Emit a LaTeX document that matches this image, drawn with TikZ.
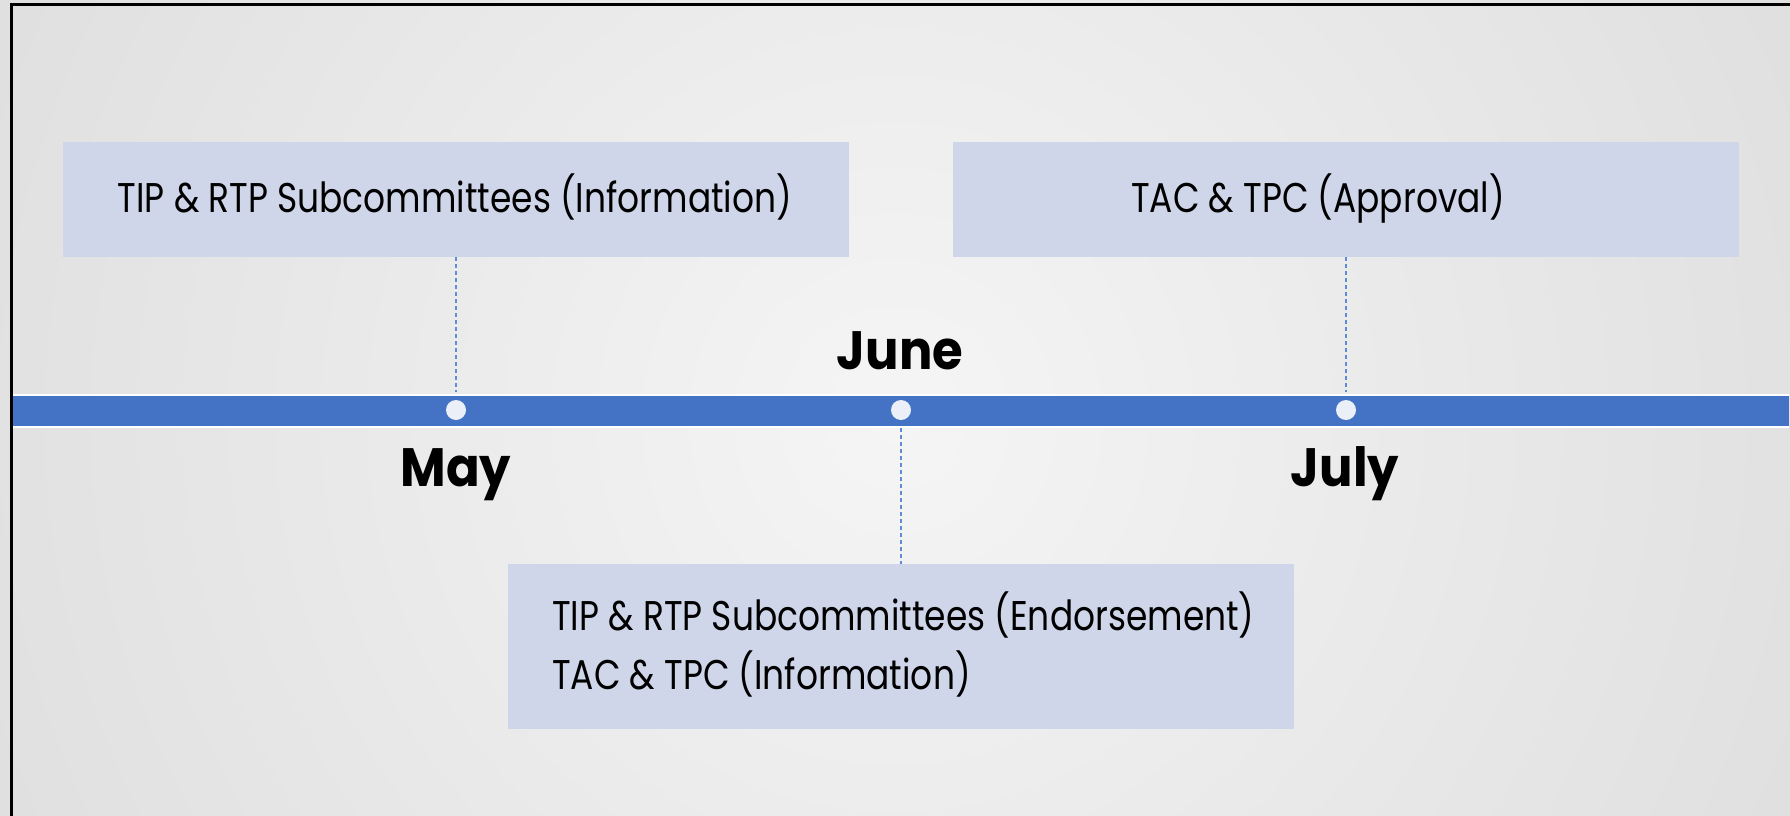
\documentclass[tikz,border=0pt]{standalone}
\usepackage{fontspec}
\newfontfamily\boxfont{Poppins}[FakeStretch=0.83]
\newfontfamily\monthfont{Poppins}[FakeStretch=0.92]
\definecolor{bgin}{RGB}{245,245,245}
\definecolor{bgout}{RGB}{220,220,220}
\definecolor{barblue}{RGB}{68,114,196}
\definecolor{boxfill}{RGB}{208,214,233}
\definecolor{dotfill}{RGB}{234,239,248}
\definecolor{dashblue}{RGB}{95,140,212}
\tikzset{
  box/.style={rectangle, fill=boxfill, minimum width=786pt, inner sep=0pt},
  boxtext/.style={inner sep=0pt, font=\boxfont\fontsize{41.5}{50}\selectfont},
  month/.style={inner sep=0pt, font=\monthfont\bfseries\fontsize{54}{60}\selectfont},
  dotnode/.style={circle, fill=dotfill, minimum size=20pt, inner sep=0pt},
  dashline/.style={draw=dashblue, line width=1.5pt, dash pattern=on 4pt off 3pt}
}
\begin{document}
\begin{tikzpicture}[x=1pt,y=-1pt]
\useasboundingbox (0,0) rectangle (1790,816);
\clip (0,0) rectangle (1790,816);
\shade[inner color=bgin, outer color=bgout] (895,420) circle (1150);
\draw[line width=3pt] (11.5,900) -- (11.5,4.5) -- (1900,4.5);
% boxes
\node[box, minimum height=115pt] (b1) at (456,199.5) {};
\node[box, minimum height=115pt] (b2) at (1346,199.5) {};
\node[box, minimum height=165pt] (b3) at (901,646.5) {};
% bar
\fill[barblue] (13,396) rectangle (1789,426);
\draw[white, line width=2pt] (13,395) -- (1789,395);
\draw[white, line width=2pt] (13,427) -- (1789,427);
% dots
\node[dotnode] (d1) at (456,410) {};
\node[dotnode] (d2) at (901,410) {};
\node[dotnode] (d3) at (1346,410) {};
% connectors
\draw[dashline, shorten >=8pt] (b1.south) -- (d1.north);
\draw[dashline, shorten >=8pt] (b2.south) -- (d3.north);
\draw[dashline, shorten <=8pt] (d2.south) -- (b3.north);
% texts
\node[boxtext, anchor=base] (t1) at (455,212) {TIP \& RTP Subcommittees (Information)};
\node[boxtext, anchor=base] (t2) at (1318,212) {TAC \& TPC (Approval)};
\node[boxtext, anchor=base west] (t3) at (552,630) {TIP \& RTP Subcommittees (Endorsement)};
\node[boxtext, anchor=base west] (t4) at (552,689) {TAC \& TPC (Information)};
% months
\node[month, anchor=base] (may) at (456,486) {May};
\node[month, anchor=base] (june) at (900,369) {June};
\node[month, anchor=base] (july) at (1345,486) {July};
\end{tikzpicture}
\end{document}
